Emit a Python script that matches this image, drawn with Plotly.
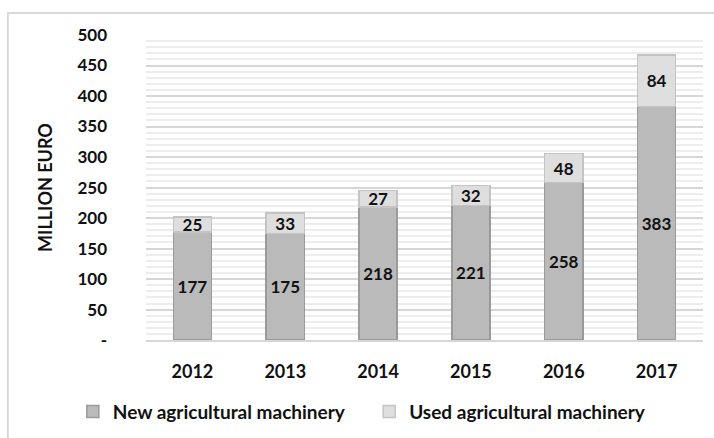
import plotly.graph_objects as go

years = ["2012", "2013", "2014", "2015", "2016", "2017"]
new_machinery = [177, 175, 218, 221, 258, 383]
used_machinery = [25, 33, 27, 32, 48, 84]
y_ticks = [0, 50, 100, 150, 200, 250, 300, 350, 400, 450, 500]
y_tick_text = ["-"] + [str(v) for v in y_ticks[1:]]

FONT = "Lato"
label_font = dict(family=FONT, size=17, color="#111111", weight="bold")
legend_font = dict(family=FONT, size=19, color="#111111", weight="bold")

fig = go.Figure()
fig.add_trace(go.Bar(
    x=years, y=new_machinery, name="New agricultural machinery",
    marker=dict(color="#bababa", line=dict(color="#9a9a9a", width=1.5)),
    text=new_machinery, textposition="inside", insidetextanchor="middle",
    textfont=label_font, textangle=0, constraintext="none",
    legend="legend",
))
fig.add_trace(go.Bar(
    x=years, y=used_machinery, name="Used agricultural machinery",
    marker=dict(color="#dedede", line=dict(color="#c4c4c4", width=1.5)),
    text=used_machinery, textposition="inside", insidetextanchor="middle",
    textfont=label_font, textangle=0, constraintext="none",
    legend="legend2",
))

legend_common = dict(
    orientation="h", xref="container", xanchor="left",
    yref="container", y=0.06, yanchor="middle",
    font=legend_font, itemwidth=30, bgcolor="rgba(0,0,0,0)",
)

fig.update_layout(
    width=714, height=438,
    margin=dict(l=146, r=11, t=35, b=96),
    barmode="stack", bargap=0.59,
    paper_bgcolor="white", plot_bgcolor="white",
    font=dict(family=FONT, color="#111111"),
    showlegend=True,
    legend=dict(x=0.102, **legend_common),
    legend2=dict(x=0.517, **legend_common),
    shapes=[dict(
        type="rect", xref="paper", yref="paper",
        x0=-0.248, x1=1.2, y0=-0.6, y1=1.072,
        line=dict(color="#d9d9d9", width=2), fillcolor="rgba(0,0,0,0)",
        layer="below",
    )],
)

fig.update_yaxes(
    range=[0, 500], tickvals=y_ticks, ticktext=y_tick_text,
    tickfont=dict(family=FONT, size=17, color="#111111", weight="bold"),
    ticklabelstandoff=38,
    showgrid=True, gridcolor="#d6d6d6", gridwidth=2,
    minor=dict(dtick=10, showgrid=True, gridcolor="#ededed", gridwidth=2),
    zeroline=False, showline=False,
    title=dict(text="MILLION EURO", standoff=20,
               font=dict(family=FONT, size=18, color="#111111", weight="bold")),
)
fig.update_xaxes(
    tickfont=dict(family=FONT, size=18, color="#111111", weight="bold"),
    showline=True, linecolor="#d6d6d6", linewidth=2,
    ticks="", ticklabelstandoff=14,
)

fig.write_html("out.html")
